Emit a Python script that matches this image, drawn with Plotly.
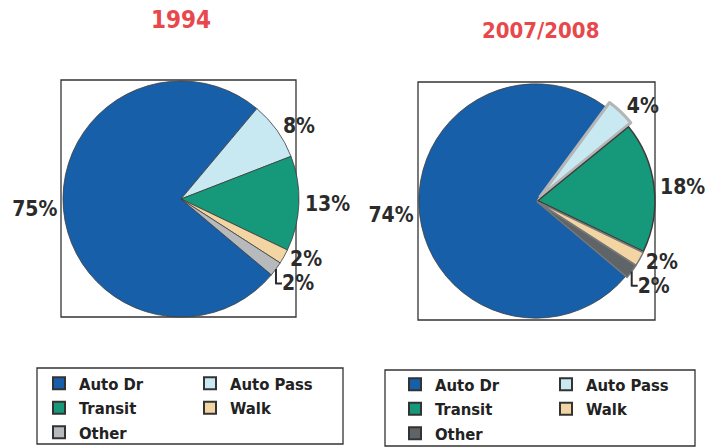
import plotly.graph_objects as go

# --- data ---
modes = ["Auto Dr", "Auto Pass", "Transit", "Walk", "Other"]
share_1994 = [75, 8, 13, 2, 2]
share_2008 = [74, 4, 18, 2, 2]
titles = ["1994", "2007/2008"]

colors_1994 = ["#1760a9", "#c8e8f2", "#15997a", "#f3d4a3", "#b6babd"]
colors_2008 = ["#1760a9", "#c8e8f2", "#15997a", "#f3d4a3", "#5e6468"]
legend_cols = ["c1", "c2", "c1", "c2", "c1"]

W, H = 707, 447
FONT = "DejaVu Sans Condensed, Liberation Sans Narrow, Arial Narrow, Liberation Sans, Arial"


def px(x):
    return x / W


def py(y):
    return 1 - y / H


fig = go.Figure()

# left pie
fig.add_trace(go.Pie(
    labels=modes, values=share_1994, sort=False, direction="clockwise", rotation=130,
    domain=dict(x=[px(63), px(299)], y=[py(317), py(81)]),
    marker=dict(colors=colors_1994, line=dict(color="#3c3c3c", width=0.8)),
    texttemplate="%{percent:.0%}", textposition="outside",
    textfont=dict(family=FONT, size=21, color="#2b2b2b", weight="bold"),
    showlegend=False, hoverinfo="label+percent",
))

# right pie
fig.add_trace(go.Pie(
    labels=modes, values=share_2008, sort=False, direction="clockwise", rotation=130,
    pull=[0, 0.05, 0.015, 0.015, 0.015],
    domain=dict(x=[px(413), px(659)], y=[py(324), py(78)]),
    marker=dict(colors=colors_2008,
                line=dict(color=["#3c3c3c", "#b5b5b5", "#3c3c3c", "#777777", "#777777"],
                          width=[0.8, 3, 1.5, 1.5, 1.5])),
    texttemplate="%{percent:.0%}", textposition="outside",
    textfont=dict(family=FONT, size=21, color="#2b2b2b", weight="bold"),
    showlegend=False, hoverinfo="label+percent",
))

# legend entries (two columns per chart)
for leg, cols in [("legend", colors_1994), ("legend2", colors_2008)]:
    for name, c, grp in zip(modes, cols, legend_cols):
        fig.add_trace(go.Scatter(
            x=[None], y=[None], mode="markers", name=name,
            marker=dict(symbol="square", size=15, color=c, line=dict(color="#333", width=1)),
            legend=leg, legendgroup=leg + grp, hoverinfo="skip",
        ))

# frames around pies and legends
boxes = [(61, 80, 296, 317), (418, 82, 655, 320), (37, 368, 343, 444), (385, 370, 695, 446)]
for x0, y0, x1, y1 in boxes:
    fig.add_shape(type="rect", xref="paper", yref="paper",
                  x0=px(x0), x1=px(x1), y0=py(y1), y1=py(y0),
                  line=dict(color="#333333", width=1.3), layer="below")

for t, (x, y), s in zip(titles, [(181, 20), (540, 30)], [24, 22]):
    fig.add_annotation(text=t, x=px(x), y=py(y), xref="paper", yref="paper", showarrow=False,
                       xanchor="center", yanchor="middle",
                       font=dict(family=FONT, size=s, color="#e8484c", weight="bold"))

leg_style = dict(orientation="h", traceorder="grouped", entrywidth=106, tracegroupgap=10,
                 xanchor="left", yanchor="top", bgcolor="rgba(0,0,0,0)",
                 font=dict(family=FONT, size=16.5, color="#222", weight="bold"),
                 itemsizing="constant")

fig.update_layout(
    width=W, height=H,
    margin=dict(l=0, r=0, t=0, b=0, autoexpand=False),
    paper_bgcolor="white", plot_bgcolor="white",
    xaxis=dict(visible=False), yaxis=dict(visible=False),
    legend=dict(x=px(39), y=py(366), **leg_style),
    legend2=dict(x=px(395), y=py(367), **leg_style),
)

fig.write_html("out.html", config={"displayModeBar": False},
               post_script="document.body.style.margin = '0';")
